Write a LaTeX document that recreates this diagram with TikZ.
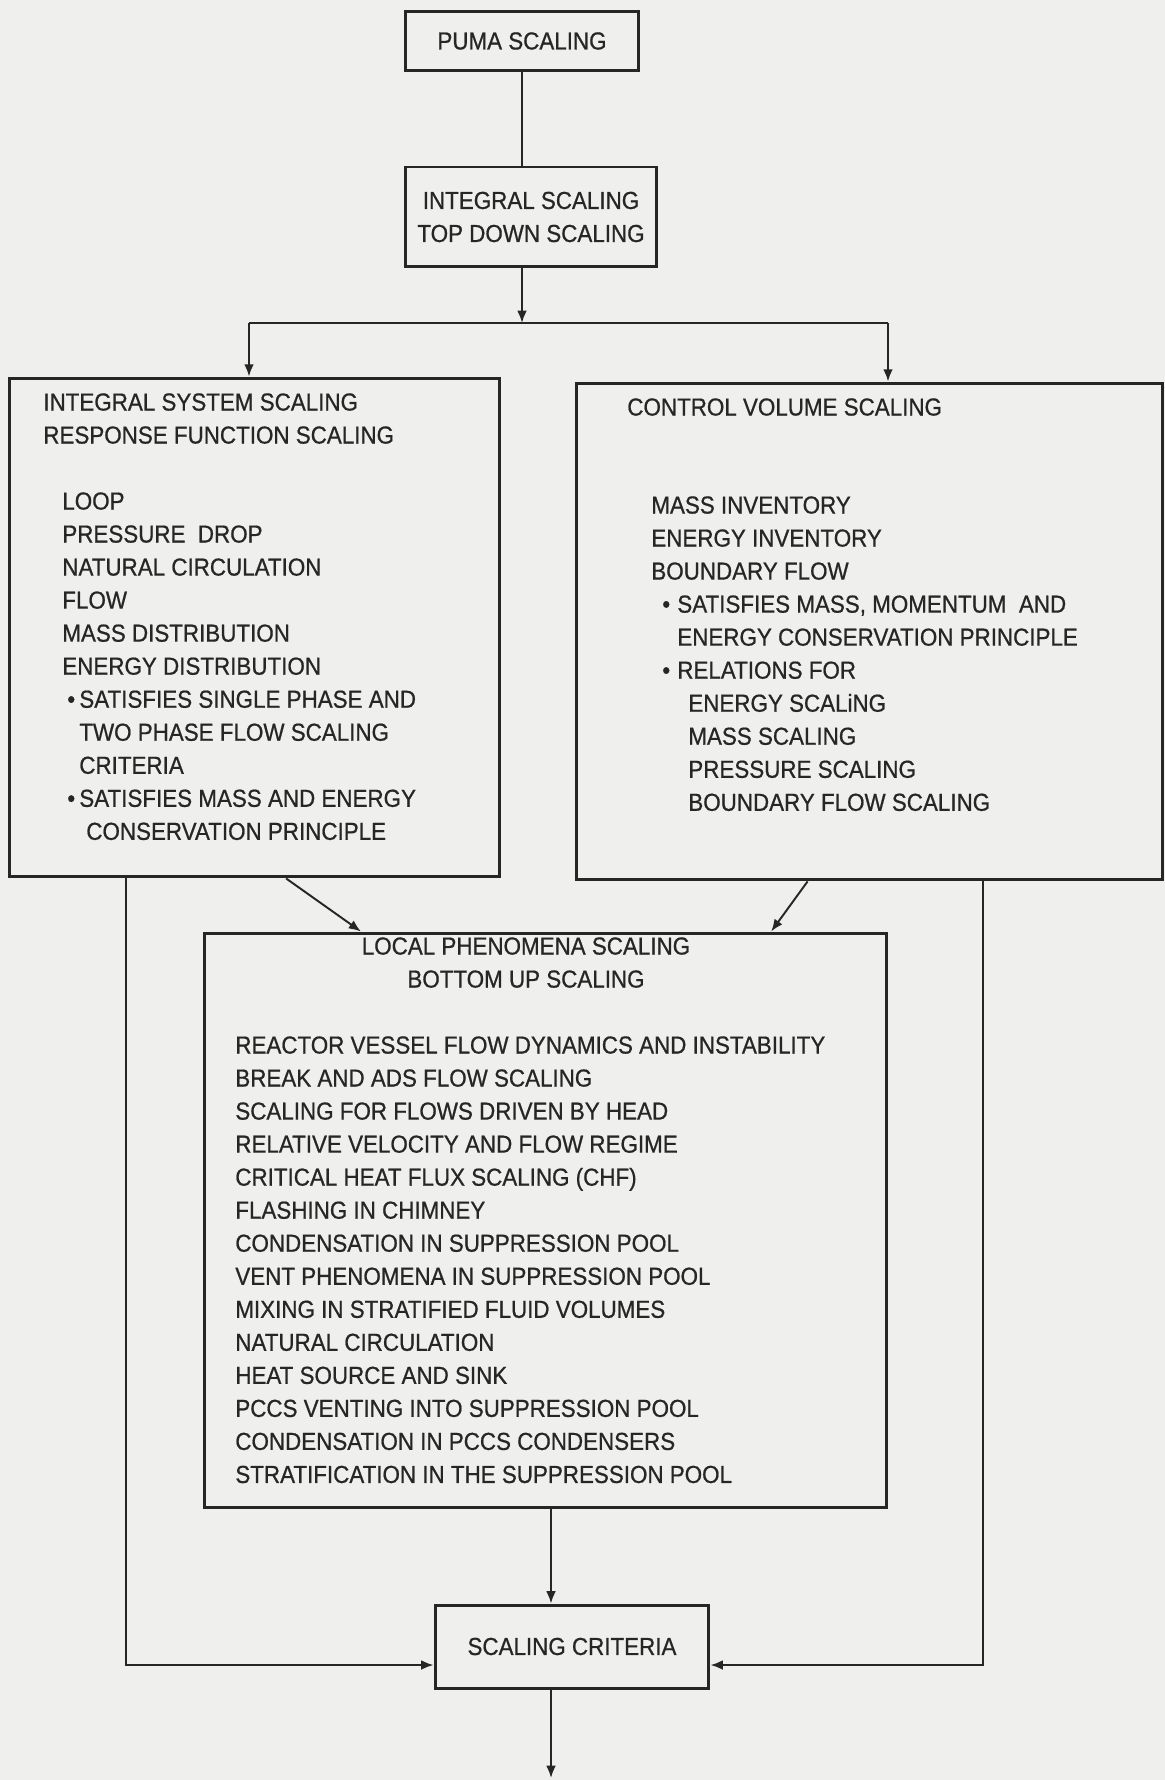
\documentclass[tikz,border=0pt]{standalone}
\usepackage{fontspec}
\setmainfont{Liberation Sans}[FakeStretch=0.91,FakeBold=0.7]
\usetikzlibrary{arrows.meta,calc}
\definecolor{paper}{RGB}{239,239,237}
\definecolor{ink}{RGB}{38,38,38}
\newcommand{\bul}[1]{\makebox[#1][l]{\textbullet}}

\begin{document}
\begin{tikzpicture}[x=0.02cm,y=-0.02cm,color=ink,
  >={Latex[length=7pt,width=5.5pt]},
  font=\fontsize{14}{18.8}\selectfont]
  \tikzstyle{box} = [draw,line width=1.7pt,rectangle,inner sep=0pt,align=center]
  \tikzstyle{txt} = [inner sep=0pt,anchor=north west,align=left]
  \tikzstyle{conn} = [draw,line width=1.1pt]
  \fill[paper] (0,0) rectangle (1165,1780);
  \useasboundingbox (0,0) rectangle (1165,1780);

  % boxes
  \node[box,minimum width=4.68cm,minimum height=1.18cm] (puma)  at (522,41)   {PUMA SCALING};
  \node[box,minimum width=5.04cm,minimum height=2.0cm]  (integ) at (531,217)  {INTEGRAL SCALING\\TOP DOWN SCALING};
  \node[box,minimum width=9.82cm,minimum height=9.98cm] (isys)  at (254.5,627.5) {};
  \node[box,minimum width=11.74cm,minimum height=9.94cm] (cvol) at (869.5,631.5) {};
  \node[box,minimum width=13.66cm,minimum height=11.5cm] (local) at (545.5,1220.5) {};
  \node[box,minimum width=5.48cm,minimum height=1.66cm] (crit)  at (572,1646.5) {SCALING CRITERIA};

  % texts
  \node[txt] (isyshead) at (43,393) {INTEGRAL SYSTEM SCALING\\RESPONSE FUNCTION SCALING};
  \node[txt] (isyslist) at (62,492) {LOOP\\PRESSURE\ \ DROP\\NATURAL CIRCULATION\\FLOW\\
    MASS DISTRIBUTION\\ENERGY DISTRIBUTION\\
    \hspace*{0.1cm}\bul{0.24cm}SATISFIES SINGLE PHASE AND\\
    \hspace*{0.34cm}TWO PHASE FLOW SCALING\\
    \hspace*{0.34cm}CRITERIA\\
    \hspace*{0.1cm}\bul{0.24cm}SATISFIES MASS AND ENERGY\\
    \hspace*{0.48cm}CONSERVATION PRINCIPLE};
  \node[txt] (cvolhead) at (627,398) {CONTROL VOLUME SCALING};
  \node[txt] (cvollist) at (651,496) {MASS INVENTORY\\ENERGY INVENTORY\\BOUNDARY FLOW\\
    \hspace*{0.22cm}\bul{0.3cm}SATISFIES MASS, MOMENTUM\ \ AND\\
    \hspace*{0.52cm}ENERGY CONSERVATION PRINCIPLE\\
    \hspace*{0.22cm}\bul{0.3cm}RELATIONS FOR\\
    \hspace*{0.74cm}ENERGY SCALiNG\\
    \hspace*{0.74cm}MASS SCALING\\
    \hspace*{0.74cm}PRESSURE SCALING\\
    \hspace*{0.74cm}BOUNDARY FLOW SCALING};
  \node[txt,anchor=north,align=center] (localhead) at (526,937) {LOCAL PHENOMENA SCALING\\BOTTOM UP SCALING};
  \node[txt] (locallist) at (235,1036) {REACTOR VESSEL FLOW DYNAMICS AND INSTABILITY\\
    BREAK AND ADS FLOW SCALING\\
    SCALING FOR FLOWS DRIVEN BY HEAD\\
    RELATIVE VELOCITY AND FLOW REGIME\\
    CRITICAL HEAT FLUX SCALING (CHF)\\
    FLASHING IN CHIMNEY\\
    CONDENSATION IN SUPPRESSION POOL\\
    VENT PHENOMENA IN SUPPRESSION POOL\\
    MIXING IN STRATIFIED FLUID VOLUMES\\
    NATURAL CIRCULATION\\
    HEAT SOURCE AND SINK\\
    PCCS VENTING INTO SUPPRESSION POOL\\
    CONDENSATION IN PCCS CONDENSERS\\
    STRATIFICATION IN THE SUPPRESSION POOL};

  % connectors
  \coordinate (split)  at (522,323);
  \coordinate (lsplit) at (249,323);
  \coordinate (rsplit) at (888,323);
  \coordinate (lrail)  at (126,1665);
  \coordinate (rrail)  at (983,1665);
  \coordinate (spine)  at (551,1778);

  \draw[conn] (puma.south) -- (puma.south |- integ.north);
  \draw[conn,->] (puma.south |- integ.south) -- (split);
  \draw[conn] (lsplit) -- (rsplit);
  \draw[conn,->] (lsplit) -- (lsplit |- isys.north);
  \draw[conn,->] (rsplit) -- (rsplit |- cvol.north);
  \draw[conn,->] ($(isys.south west)!0.564!(isys.south east)$) -- ($(local.north west)!0.231!(local.north east)$);
  \draw[conn,->] ($(cvol.south west)!0.395!(cvol.south east)$) -- ($(local.north west)!0.829!(local.north east)$);
  \draw[conn,->] (isys.south -| lrail) -- (lrail) -- (lrail -| crit.west);
  \draw[conn,->] (cvol.south -| rrail) -- (rrail) -- (rrail -| crit.east);
  \draw[conn,->] (local.south -| spine) -- (crit.north -| spine);
  \draw[conn,->] (crit.south -| spine) -- (spine);
\end{tikzpicture}
\end{document}
